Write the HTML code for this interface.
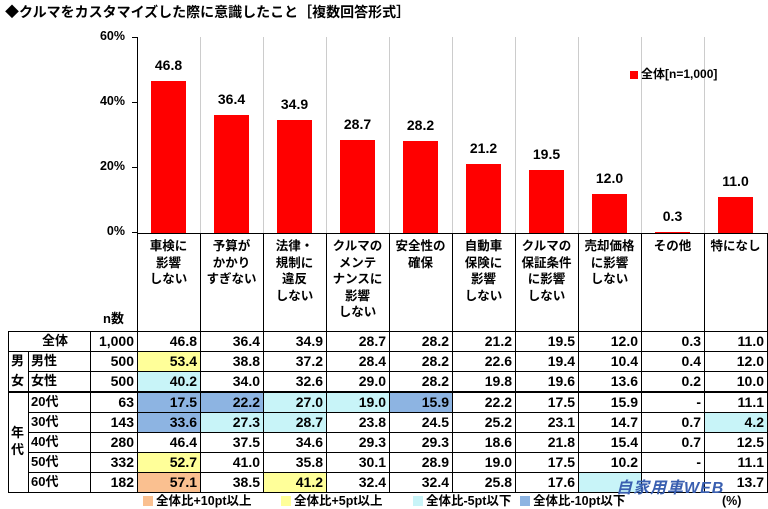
<!DOCTYPE html>
<html><head><meta charset="utf-8"><style>
*{margin:0;padding:0;box-sizing:border-box}
body{width:768px;height:509px;background:#fff;position:relative;overflow:hidden;font-family:"Liberation Sans","Noto Sans CJK JP",sans-serif;font-weight:bold;color:#000}
.a{position:absolute}
.t{font-size:14px;left:5px;top:2px}
.yl{font-size:12.5px;width:40px;text-align:right;left:85px}
.bar{position:absolute;background:#f00;width:35px}
.bv{position:absolute;width:63px;text-align:center;font-size:14px}
.vg{position:absolute;width:1px;background:#ccc;top:37px;height:196px}
.hd{position:absolute;top:238px;width:63px;text-align:center;font-size:12.5px;line-height:16.5px}
.vl{position:absolute;width:1px;background:#000}
.hl{position:absolute;height:1px;background:#000}
.c{position:absolute;height:20px;width:63px;text-align:right;padding-right:3px;font-size:14px;line-height:20px}
.lb{position:absolute;font-size:13px;line-height:20px}
.lg{position:absolute;top:495px;font-size:12.5px;line-height:13px}
.sq{display:inline-block;width:10px;height:10px;vertical-align:-1px;margin-right:3px}
</style></head><body>
<div class="a t">◆クルマをカスタマイズした際に意識したこと［複数回答形式］</div>
<div class="a yl" style="top:29px">60%</div>
<div class="a yl" style="top:94px">40%</div>
<div class="a yl" style="top:159px">20%</div>
<div class="a yl" style="top:224px">0%</div>
<div class="vl" style="left:137px;top:37px;height:455px"></div>
<div class="a" style="left:132px;top:37px;width:6px;height:1px;background:#000"></div>
<div class="a" style="left:132px;top:102px;width:6px;height:1px;background:#000"></div>
<div class="a" style="left:132px;top:167px;width:6px;height:1px;background:#000"></div>
<div class="a" style="left:132px;top:232px;width:6px;height:1px;background:#000"></div>
<div class="vg" style="left:200px"></div><div class="vg" style="left:263px"></div><div class="vg" style="left:326px"></div><div class="vg" style="left:389px"></div><div class="vg" style="left:452px"></div><div class="vg" style="left:515px"></div><div class="vg" style="left:578px"></div><div class="vg" style="left:641px"></div><div class="vg" style="left:704px"></div>
<div class="bar" style="left:151px;top:81px;height:152px"></div>
<div class="bar" style="left:214px;top:115px;height:118px"></div>
<div class="bar" style="left:277px;top:120px;height:113px"></div>
<div class="bar" style="left:340px;top:140px;height:93px"></div>
<div class="bar" style="left:403px;top:141px;height:92px"></div>
<div class="bar" style="left:466px;top:164px;height:69px"></div>
<div class="bar" style="left:529px;top:170px;height:63px"></div>
<div class="bar" style="left:592px;top:194px;height:39px"></div>
<div class="bar" style="left:655px;top:232px;height:1px"></div>
<div class="bar" style="left:718px;top:197px;height:36px"></div>
<div class="bv" style="left:137px;top:57px">46.8</div>
<div class="bv" style="left:200px;top:91px">36.4</div>
<div class="bv" style="left:263px;top:96px">34.9</div>
<div class="bv" style="left:326px;top:116px">28.7</div>
<div class="bv" style="left:389px;top:117px">28.2</div>
<div class="bv" style="left:452px;top:140px">21.2</div>
<div class="bv" style="left:515px;top:146px">19.5</div>
<div class="bv" style="left:578px;top:170px">12.0</div>
<div class="bv" style="left:641px;top:208px">0.3</div>
<div class="bv" style="left:704px;top:173px">11.0</div>
<div class="a" style="left:630px;top:65px;font-size:12px"><span class="sq" style="background:#f00;width:8px;height:8px"></span>全体[n=1,000]</div>
<div class="hl" style="left:137px;top:233px;width:631px"></div>
<div class="hd" style="left:137px">車検に<br>影響<br>しない</div>
<div class="hd" style="left:200px">予算が<br>かかり<br>すぎない</div>
<div class="hd" style="left:263px">法律・<br>規制に<br>違反<br>しない</div>
<div class="hd" style="left:326px">クルマの<br>メンテ<br>ナンスに<br>影響<br>しない</div>
<div class="hd" style="left:389px">安全性の<br>確保</div>
<div class="hd" style="left:452px">自動車<br>保険に<br>影響<br>しない</div>
<div class="hd" style="left:515px">クルマの<br>保証条件<br>に影響<br>しない</div>
<div class="hd" style="left:578px">売却価格<br>に影響<br>しない</div>
<div class="hd" style="left:641px">その他</div>
<div class="hd" style="left:704px">特になし</div>
<div class="lb" style="left:103px;top:309px">n数</div>
<div class="vl" style="left:200px;top:233px;height:259px"></div><div class="vl" style="left:263px;top:233px;height:259px"></div><div class="vl" style="left:326px;top:233px;height:259px"></div><div class="vl" style="left:389px;top:233px;height:259px"></div><div class="vl" style="left:452px;top:233px;height:259px"></div><div class="vl" style="left:515px;top:233px;height:259px"></div><div class="vl" style="left:578px;top:233px;height:259px"></div><div class="vl" style="left:641px;top:233px;height:259px"></div><div class="vl" style="left:704px;top:233px;height:259px"></div><div class="vl" style="left:767px;top:233px;height:259px"></div>
<div class="a" style="left:138px;top:352px;width:62px;height:19px;background:#ffff99"></div>
<div class="a" style="left:138px;top:372px;width:62px;height:20px;background:#c8f4f8"></div>
<div class="a" style="left:138px;top:393px;width:62px;height:19px;background:#8db4e2"></div>
<div class="a" style="left:201px;top:393px;width:62px;height:19px;background:#8db4e2"></div>
<div class="a" style="left:264px;top:393px;width:62px;height:19px;background:#c8f4f8"></div>
<div class="a" style="left:327px;top:393px;width:62px;height:19px;background:#c8f4f8"></div>
<div class="a" style="left:390px;top:393px;width:62px;height:19px;background:#8db4e2"></div>
<div class="a" style="left:138px;top:413px;width:62px;height:19px;background:#8db4e2"></div>
<div class="a" style="left:201px;top:413px;width:62px;height:19px;background:#c8f4f8"></div>
<div class="a" style="left:264px;top:413px;width:62px;height:19px;background:#c8f4f8"></div>
<div class="a" style="left:705px;top:413px;width:62px;height:19px;background:#c8f4f8"></div>
<div class="a" style="left:138px;top:453px;width:62px;height:19px;background:#ffff99"></div>
<div class="a" style="left:138px;top:473px;width:62px;height:19px;background:#fac090"></div>
<div class="a" style="left:264px;top:473px;width:62px;height:19px;background:#ffff99"></div>
<div class="a" style="left:579px;top:473px;width:62px;height:19px;background:#c8f4f8"></div>
<div class="hl" style="left:8px;top:331px;width:760px"></div>
<div class="hl" style="left:8px;top:351px;width:760px"></div>
<div class="hl" style="left:28px;top:371px;width:740px"></div>
<div class="hl" style="left:8px;top:391px;width:760px;height:2px"></div>
<div class="hl" style="left:28px;top:412px;width:740px"></div>
<div class="hl" style="left:28px;top:432px;width:740px"></div>
<div class="hl" style="left:28px;top:452px;width:740px"></div>
<div class="hl" style="left:28px;top:472px;width:740px"></div>
<div class="hl" style="left:8px;top:492px;width:760px"></div>
<div class="vl" style="left:8px;top:331px;height:161px"></div>
<div class="vl" style="left:28px;top:351px;height:141px"></div>
<div class="vl" style="left:90px;top:331px;height:161px"></div>
<div class="lb" style="left:42px;top:331px">全体</div>
<div class="lb" style="left:11px;top:351px">男</div>
<div class="lb" style="left:11px;top:371px">女</div>
<div class="lb" style="left:31px;top:351px">男性</div>
<div class="lb" style="left:31px;top:371px">女性</div>
<div class="lb" style="left:11px;top:424px;line-height:17px">年<br>代</div>
<div class="lb" style="left:31px;top:392px">20代</div>
<div class="lb" style="left:31px;top:412px">30代</div>
<div class="lb" style="left:31px;top:432px">40代</div>
<div class="lb" style="left:31px;top:452px">50代</div>
<div class="lb" style="left:31px;top:472px">60代</div>
<div class="c" style="left:74px;top:331px">1,000</div>
<div class="c" style="left:74px;top:351px">500</div>
<div class="c" style="left:74px;top:371px">500</div>
<div class="c" style="left:74px;top:392px">63</div>
<div class="c" style="left:74px;top:412px">143</div>
<div class="c" style="left:74px;top:432px">280</div>
<div class="c" style="left:74px;top:452px">332</div>
<div class="c" style="left:74px;top:472px">182</div>
<div class="c" style="left:137px;top:331px">46.8</div><div class="c" style="left:200px;top:331px">36.4</div><div class="c" style="left:263px;top:331px">34.9</div><div class="c" style="left:326px;top:331px">28.7</div><div class="c" style="left:389px;top:331px">28.2</div><div class="c" style="left:452px;top:331px">21.2</div><div class="c" style="left:515px;top:331px">19.5</div><div class="c" style="left:578px;top:331px">12.0</div><div class="c" style="left:641px;top:331px">0.3</div><div class="c" style="left:704px;top:331px">11.0</div>
<div class="c" style="left:137px;top:351px">53.4</div><div class="c" style="left:200px;top:351px">38.8</div><div class="c" style="left:263px;top:351px">37.2</div><div class="c" style="left:326px;top:351px">28.4</div><div class="c" style="left:389px;top:351px">28.2</div><div class="c" style="left:452px;top:351px">22.6</div><div class="c" style="left:515px;top:351px">19.4</div><div class="c" style="left:578px;top:351px">10.4</div><div class="c" style="left:641px;top:351px">0.4</div><div class="c" style="left:704px;top:351px">12.0</div>
<div class="c" style="left:137px;top:371px">40.2</div><div class="c" style="left:200px;top:371px">34.0</div><div class="c" style="left:263px;top:371px">32.6</div><div class="c" style="left:326px;top:371px">29.0</div><div class="c" style="left:389px;top:371px">28.2</div><div class="c" style="left:452px;top:371px">19.8</div><div class="c" style="left:515px;top:371px">19.6</div><div class="c" style="left:578px;top:371px">13.6</div><div class="c" style="left:641px;top:371px">0.2</div><div class="c" style="left:704px;top:371px">10.0</div>
<div class="c" style="left:137px;top:392px">17.5</div><div class="c" style="left:200px;top:392px">22.2</div><div class="c" style="left:263px;top:392px">27.0</div><div class="c" style="left:326px;top:392px">19.0</div><div class="c" style="left:389px;top:392px">15.9</div><div class="c" style="left:452px;top:392px">22.2</div><div class="c" style="left:515px;top:392px">17.5</div><div class="c" style="left:578px;top:392px">15.9</div><div class="c" style="left:641px;top:392px">-</div><div class="c" style="left:704px;top:392px">11.1</div>
<div class="c" style="left:137px;top:412px">33.6</div><div class="c" style="left:200px;top:412px">27.3</div><div class="c" style="left:263px;top:412px">28.7</div><div class="c" style="left:326px;top:412px">23.8</div><div class="c" style="left:389px;top:412px">24.5</div><div class="c" style="left:452px;top:412px">25.2</div><div class="c" style="left:515px;top:412px">23.1</div><div class="c" style="left:578px;top:412px">14.7</div><div class="c" style="left:641px;top:412px">0.7</div><div class="c" style="left:704px;top:412px">4.2</div>
<div class="c" style="left:137px;top:432px">46.4</div><div class="c" style="left:200px;top:432px">37.5</div><div class="c" style="left:263px;top:432px">34.6</div><div class="c" style="left:326px;top:432px">29.3</div><div class="c" style="left:389px;top:432px">29.3</div><div class="c" style="left:452px;top:432px">18.6</div><div class="c" style="left:515px;top:432px">21.8</div><div class="c" style="left:578px;top:432px">15.4</div><div class="c" style="left:641px;top:432px">0.7</div><div class="c" style="left:704px;top:432px">12.5</div>
<div class="c" style="left:137px;top:452px">52.7</div><div class="c" style="left:200px;top:452px">41.0</div><div class="c" style="left:263px;top:452px">35.8</div><div class="c" style="left:326px;top:452px">30.1</div><div class="c" style="left:389px;top:452px">28.9</div><div class="c" style="left:452px;top:452px">19.0</div><div class="c" style="left:515px;top:452px">17.5</div><div class="c" style="left:578px;top:452px">10.2</div><div class="c" style="left:641px;top:452px">-</div><div class="c" style="left:704px;top:452px">11.1</div>
<div class="c" style="left:137px;top:472px">57.1</div><div class="c" style="left:200px;top:472px">38.5</div><div class="c" style="left:263px;top:472px">41.2</div><div class="c" style="left:326px;top:472px">32.4</div><div class="c" style="left:389px;top:472px">32.4</div><div class="c" style="left:452px;top:472px">25.8</div><div class="c" style="left:515px;top:472px">17.6</div><div class="c" style="left:704px;top:472px">13.7</div>
<div class="a" style="left:616px;top:474px;font-size:16px;color:#3a5fb0;font-style:italic;letter-spacing:1px">自家用車WEB</div>
<div class="lg" style="left:143px"><span class="sq" style="background:#fac090"></span>全体比+10pt以上</div>
<div class="lg" style="left:281px"><span class="sq" style="background:#ffff99"></span>全体比+5pt以上</div>
<div class="lg" style="left:413px"><span class="sq" style="background:#c8f4f8"></span>全体比-5pt以下</div>
<div class="lg" style="left:520px"><span class="sq" style="background:#8db4e2"></span>全体比-10pt以下</div>
<div class="lg" style="left:722px">(%)</div>
</body></html>
